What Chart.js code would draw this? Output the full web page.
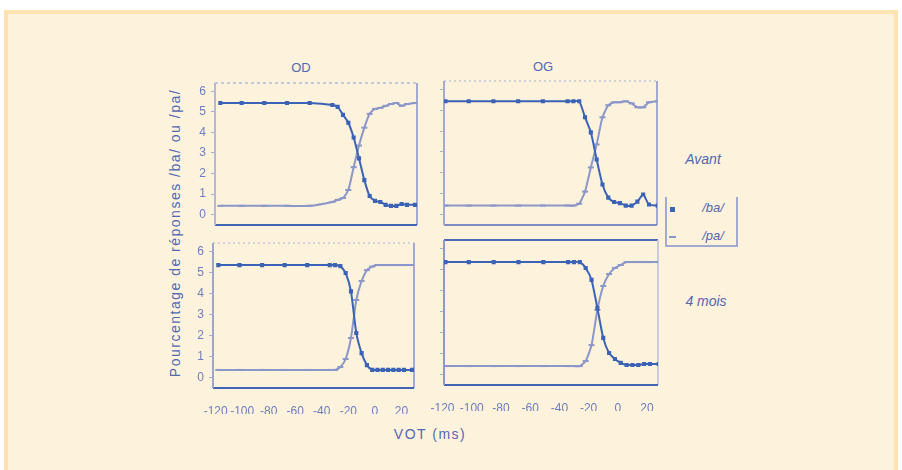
<!DOCTYPE html>
<html>
<head>
<meta charset="utf-8">
<script src="https://cdn.jsdelivr.net/npm/chart.js@4.4.1/dist/chart.umd.min.js"></script>
<style>
  body { margin: 0; width: 902px; height: 470px; overflow: hidden; position: relative; background: #fff;
         font-family: "Liberation Sans", Arial, sans-serif; color: #5268b2; }
  #frame { position: absolute; left: 4px; top: 10px; width: 886px; height: 470px; background: #fdf2dc; border: 4px solid #fde3b1; }
  canvas { position: absolute; }
  .txt { position: absolute; white-space: nowrap; transform: translate(-50%, -50%); }
  #ytitle { transform: translate(-50%, -50%) rotate(-90deg); font-size: 14px; letter-spacing: 1.5px; }
  #legend { position: absolute; left: 665px; top: 197px; width: 69px; height: 48px;
            border: 2px solid #a3aad1; border-top: none; }
</style>
</head>
<body>
<div id="frame"></div>

<div class="txt" style="left:301px; top:67px; font-size:13px;">OD</div>
<div class="txt" style="left:543px; top:66px; font-size:13px;">OG</div>
<div class="txt" id="ytitle" style="left:175px; top:233px;">Pourcentage de réponses /ba/ ou /pa/</div>
<div class="txt" style="left:430px; top:434px; font-size:14px; letter-spacing:1.5px;">VOT (ms)</div>
<div class="txt" style="left:703px; top:159px; font-size:14px; font-style:italic;">Avant</div>
<div class="txt" style="left:706px; top:301px; font-size:14px; font-style:italic;">4 mois</div>

<div id="legend"></div>
<div style="position:absolute; left:670px; top:207px; width:5px; height:5px; background:#3a62b5;"></div>
<div style="position:absolute; left:669px; top:236px; width:7px; height:2px; background:#8b96c9;"></div>
<div class="txt" style="left:713px; top:207px; font-size:13px; font-style:italic;">/ba/</div>
<div class="txt" style="left:713px; top:235px; font-size:13px; font-style:italic;">/pa/</div>

<script>
// VOT continuum (ms), shared by the four panels
const vot = [-118, -102, -85, -68, -51, -34, -30, -26, -22, -18, -14, -10, -6, -2, 2, 6, 10, 14, 18, 22, 28];

// responses per panel
const odAvantBa = [5.43, 5.43, 5.43, 5.43, 5.43, 5.33, 5.24, 4.85, 4.47, 3.75, 2.74, 1.68, 0.91, 0.67, 0.62, 0.48, 0.43, 0.43, 0.52, 0.48, 0.48];
const odAvantPa = [0.43, 0.43, 0.43, 0.43, 0.43, 0.62, 0.72, 0.81, 1.20, 2.31, 3.36, 4.23, 4.90, 5.14, 5.19, 5.29, 5.38, 5.43, 5.29, 5.38, 5.43];
const ogAvantBa = [5.43, 5.43, 5.43, 5.43, 5.43, 5.43, 5.43, 5.43, 4.66, 3.94, 2.64, 1.44, 0.81, 0.60, 0.55, 0.43, 0.43, 0.62, 0.96, 0.48, 0.43];
const ogAvantPa = [0.43, 0.43, 0.43, 0.43, 0.43, 0.43, 0.43, 0.52, 1.10, 2.26, 3.36, 4.66, 5.24, 5.38, 5.38, 5.43, 5.33, 5.14, 5.14, 5.38, 5.43];
const od4moisBa = [5.35, 5.35, 5.35, 5.35, 5.35, 5.35, 5.35, 5.30, 4.97, 4.10, 2.12, 1.16, 0.59, 0.36, 0.36, 0.36, 0.36, 0.36, 0.36, 0.36, 0.36];
const od4moisPa = [0.36, 0.36, 0.36, 0.36, 0.36, 0.36, 0.36, 0.50, 0.88, 1.88, 3.69, 4.59, 5.11, 5.28, 5.35, 5.35, 5.35, 5.35, 5.35, 5.35, 5.35];
const og4moisBa = [5.35, 5.35, 5.35, 5.35, 5.35, 5.35, 5.35, 5.35, 5.07, 4.50, 3.16, 1.74, 1.02, 0.74, 0.55, 0.45, 0.45, 0.45, 0.50, 0.50, 0.50];
const og4moisPa = [0.40, 0.40, 0.40, 0.40, 0.40, 0.40, 0.40, 0.40, 0.64, 1.40, 3.07, 4.21, 4.78, 5.07, 5.21, 5.35, 5.35, 5.35, 5.35, 5.35, 5.35];

// tick labels
const xTicks = [-120, -100, -80, -60, -40, -20, 0, 20];
const yTicks = [0, 1, 2, 3, 4, 5, 6];

const DARK = '#3a62b5';
const LIGHT = '#8b96c9';
const TICK_COLOR = '#6d7dbf';
const PAD = 16;

// draws the box around the plot area, each side with its own colour
const framePlugin = {
  id: 'frame',
  beforeDatasetsDraw(chart, args, opts) {
    const { ctx, chartArea: { left, top, right, bottom } } = chart;
    const sides = {
      top: [left, top, right, top],
      right: [right, top, right, bottom],
      bottom: [left, bottom, right, bottom],
      left: [left, top, left, bottom]
    };
    ctx.save();
    ctx.lineWidth = 2;
    Object.keys(sides).forEach(k => {
      const s = opts[k];
      const p = sides[k];
      ctx.strokeStyle = s.color;
      ctx.setLineDash(s.dash || []);
      ctx.beginPath();
      ctx.moveTo(p[0], p[1]);
      ctx.lineTo(p[2], p[3]);
      ctx.stroke();
    });
    ctx.restore();
  }
};

const dotted = { color: '#d2d0da', dash: [2, 3] };
const panels = [
  { box: { l: 215, t: 83, w: 202, h: 142 }, xMin: -122, xMax: 29.5, ba: odAvantBa, pa: odAvantPa, yLabels: true, xLabels: false,
    frame: { top: { color: '#c3c5da', dash: [3, 3] }, right: { color: '#a3aad1' }, bottom: { color: '#3f64b3' }, left: { color: '#b3b8d6' } } },
  { box: { l: 444, t: 81, w: 213, h: 144 }, xMin: -119, xMax: 27.5, ba: ogAvantBa, pa: ogAvantPa, yLabels: false, xLabels: false,
    frame: { top: dotted, right: { color: '#a3aad1' }, bottom: { color: '#7f8cc4' }, left: { color: '#a3aad1' } } },
  { box: { l: 213, t: 243, w: 201, h: 145 }, xMin: -122, xMax: 29.5, ba: od4moisBa, pa: od4moisPa, yLabels: true, xLabels: true,
    frame: { top: dotted, right: { color: '#a3aad1' }, bottom: { color: '#3f64b3' }, left: { color: '#9ca4cf' } } },
  { box: { l: 444, t: 240, w: 214, h: 145 }, xMin: -119, xMax: 27.5, ba: og4moisBa, pa: og4moisPa, yLabels: false, xLabels: true,
    frame: { top: { color: '#4a68b4' }, right: { color: '#c8cade' }, bottom: { color: '#3f64b3' }, left: { color: '#8f99c9' } } }
];

panels.forEach(p => {
  const yW = p.yLabels ? 34 : 6;
  const xH = p.xLabels ? 26 : 0;
  const canvas = document.createElement('canvas');
  canvas.width = p.box.w + 2 * PAD + yW;
  canvas.height = p.box.h + 2 * PAD + xH;
  canvas.style.left = (p.box.l - PAD - yW) + 'px';
  canvas.style.top = (p.box.t - PAD) + 'px';
  canvas.style.width = canvas.width + 'px';
  canvas.style.height = canvas.height + 'px';
  document.body.appendChild(canvas);

  new Chart(canvas.getContext('2d'), {
    type: 'line',
    data: {
      datasets: [
        {
          label: '/ba/',
          data: vot.map((v, i) => ({ x: v, y: p.ba[i] })),
          borderColor: DARK,
          backgroundColor: DARK,
          borderWidth: 2,
          pointStyle: 'rect',
          pointRadius: 1.5,
          tension: 0.2
        },
        {
          label: '/pa/',
          data: vot.map((v, i) => ({ x: v, y: p.pa[i] })),
          borderColor: LIGHT,
          backgroundColor: LIGHT,
          borderWidth: 2,
          pointStyle: 'line',
          pointRadius: 3,
          tension: 0.2
        }
      ]
    },
    options: {
      responsive: false,
      animation: false,
      layout: { padding: PAD },
      plugins: {
        legend: { display: false },
        tooltip: { enabled: false },
        frame: p.frame
      },
      scales: {
        x: {
          type: 'linear',
          min: p.xMin,
          max: p.xMax,
          display: p.xLabels,
          afterFit: s => { s.height = xH; },
          afterBuildTicks: s => { s.ticks = xTicks.map(v => ({ value: v })); },
          grid: { display: false },
          border: { display: false },
          ticks: { autoSkip: false, maxRotation: 0, padding: 8, color: TICK_COLOR,
                   font: { family: '"Liberation Sans", Arial, sans-serif', size: 12 } }
        },
        y: {
          type: 'linear',
          min: -0.5,
          max: 6.4,
          afterFit: s => { s.width = yW; },
          afterBuildTicks: s => { s.ticks = yTicks.map(v => ({ value: v })); },
          grid: { drawOnChartArea: false, tickLength: 4, color: '#a9afd3' },
          border: { display: false },
          ticks: { display: p.yLabels, padding: 5, color: TICK_COLOR,
                   font: { family: '"Liberation Sans", Arial, sans-serif', size: 12 } }
        }
      }
    },
    plugins: [framePlugin]
  });
});
</script>
</body>
</html>
